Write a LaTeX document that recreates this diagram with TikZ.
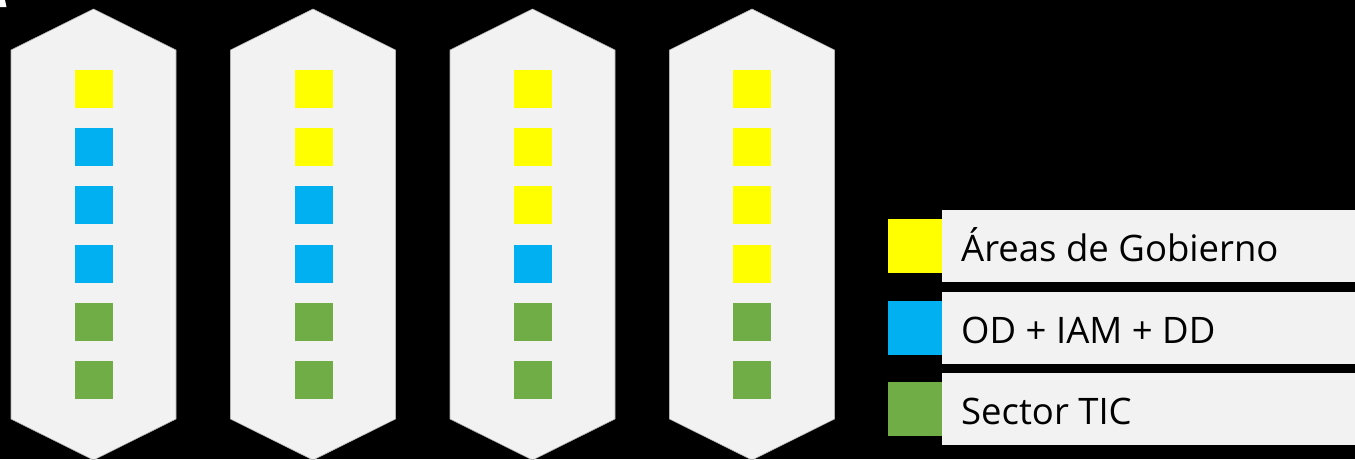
\documentclass[tikz,border=0pt]{standalone}
\usepackage{fontspec}
\setmainfont{Open Sans}
\definecolor{panel}{HTML}{F2F2F2}
\definecolor{cy}{HTML}{FFFF00}
\definecolor{cb}{HTML}{00B0F0}
\definecolor{cg}{HTML}{70AD47}
\begin{document}
\begin{tikzpicture}[x=1pt,y=-1pt,
  hexa/.style={fill=panel,draw=gray!60,line width=0.6pt},
  sq/.style={minimum width=38pt,minimum height=38pt,inner sep=0pt,outer sep=0pt},
  lsq/.style={minimum width=54pt,minimum height=54pt,inner sep=0pt,outer sep=0pt},
  lbox/.style={fill=panel,minimum width=413pt,minimum height=72pt,inner sep=0pt,outer sep=0pt,anchor=west},
  ltext/.style={anchor=base west,inner sep=0pt,font=\fontsize{36.5}{40}\selectfont}]
\useasboundingbox (0,0) rectangle (1355,459);
\fill[black] (0,0) rectangle (1355,459);
\fill[white] (0,0) -- (5,0) -- (6.5,7) -- (0,7) -- cycle;
% hexagons
\foreach \i in {0,1,2,3} {
  \pgfmathsetmacro{\xl}{11+219.5*\i}
  \pgfmathsetmacro{\xr}{\xl+165}
  \pgfmathsetmacro{\xm}{\xl+82.5}
  \draw[hexa] (\xl,50) -- (\xm,9) -- (\xr,50) -- (\xr,419) -- (\xm,460) -- (\xl,419) -- cycle;
}
% squares
\foreach \col/\cx in {1/94,2/313.5,3/532.5,4/752} {
  \foreach \row in {1,...,6} {
    \pgfmathsetmacro{\cy}{89+58.2*(\row-1)}
    \pgfmathtruncatemacro{\ny}{\col}
    \ifnum\row>\ny
      \ifnum\row>4
        \node[sq,fill=cg] (s\col-\row) at (\cx,\cy) {};
      \else
        \node[sq,fill=cb] (s\col-\row) at (\cx,\cy) {};
      \fi
    \else
      \node[sq,fill=cy] (s\col-\row) at (\cx,\cy) {};
    \fi
  }
}
% legend
\node[lbox] (b1) at (942,246) {};
\node[lbox] (b2) at (942,328) {};
\node[lbox] (b3) at (942,409) {};
\node[lsq,fill=cy] (l1) at (915,246) {};
\node[lsq,fill=cb] (l2) at (915,328) {};
\node[lsq,fill=cg] (l3) at (915,409) {};
\node[ltext] (t1) at (961,261) {Áreas de Gobierno};
\node[ltext] (t2) at (961,343) {OD + IAM + DD};
\node[ltext] (t3) at (961,424) {Sector TIC};
\end{tikzpicture}
\end{document}
